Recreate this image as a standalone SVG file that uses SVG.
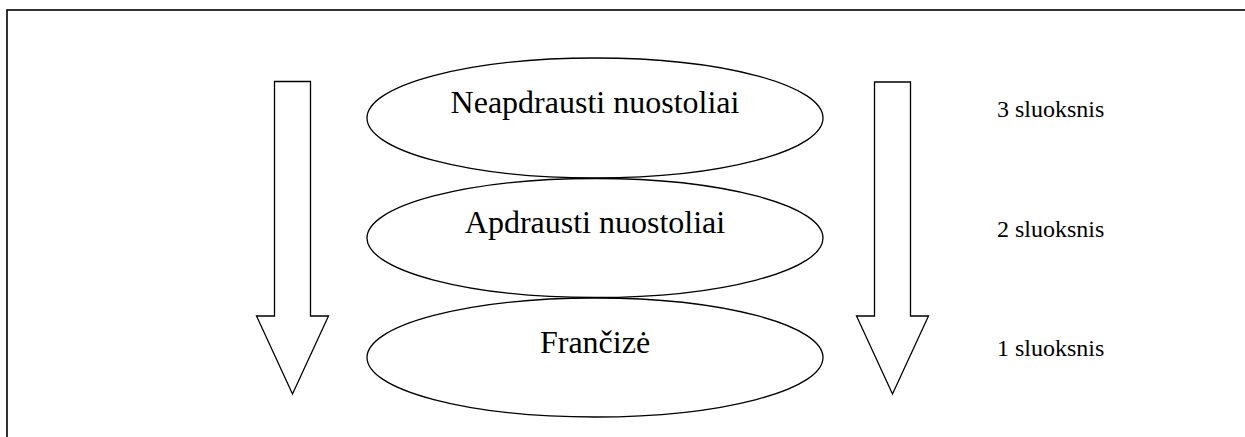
<svg xmlns="http://www.w3.org/2000/svg" width="1245" height="437" viewBox="0 0 1245 437">
<style>
.frame{fill:none;stroke:#000;stroke-width:1.6}
.shape{fill:#fff;stroke:#000;stroke-width:1.3}
.lbl{font-family:"Liberation Serif","Times New Roman",serif;fill:#000;text-anchor:middle}
.big{font-size:32px}
.side{font-family:"Liberation Serif","Times New Roman",serif;fill:#000;font-size:24px}
</style>
<rect x="0" y="0" width="1245" height="437" fill="#fff"/>
<rect class="frame" x="7" y="10" width="1260" height="450"/>
<g id="connectors">
<path id="arrow-left" class="shape" d="M274.5,81.5 H310.5 V316 H328.5 L292.5,394 L256.5,316 H274.5 Z"/>
<path id="arrow-right" class="shape" d="M874.5,82 H910.5 V316 H928.5 L892.5,394 L856.5,316 H874.5 Z"/>
</g>
<g id="node-3">
<ellipse class="shape" cx="595" cy="118" rx="228" ry="60"/>
<text class="lbl big" x="595" y="113">Neapdrausti nuostoliai</text>
</g>
<g id="node-2">
<ellipse class="shape" cx="595" cy="238" rx="228" ry="59.5"/>
<text class="lbl big" x="595" y="233">Apdrausti nuostoliai</text>
</g>
<g id="node-1">
<ellipse class="shape" cx="595" cy="357.5" rx="228" ry="59.5"/>
<text class="lbl big" x="595" y="353">Frančizė</text>
</g>
<g id="layer-labels">
<text class="side" x="997" y="117">3 sluoksnis</text>
<text class="side" x="997" y="237">2 sluoksnis</text>
<text class="side" x="997" y="356">1 sluoksnis</text>
</g>
</svg>
